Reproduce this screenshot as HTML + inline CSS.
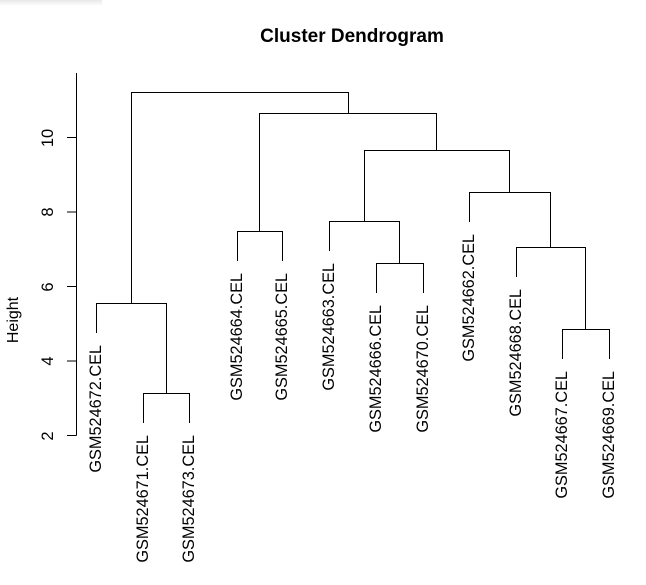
<!DOCTYPE html>
<html><head><style>body{margin:0;background:#fff}</style></head><body>
<svg width="646" height="580" xmlns="http://www.w3.org/2000/svg" font-family="Liberation Sans, sans-serif">
<defs><linearGradient id="g" x1="0" y1="0" x2="0" y2="1"><stop offset="0" stop-color="#e8e8e8"/><stop offset="1" stop-color="#fff"/></linearGradient></defs>
<rect x="0" y="0" width="102" height="6" fill="url(#g)"/>
<text x="352" y="42" font-size="19" font-weight="bold" text-anchor="middle">Cluster Dendrogram</text>
<text transform="translate(18,320) rotate(-90)" font-size="16" text-anchor="middle">Height</text>
<g stroke="#000" stroke-width="1" fill="none">
<path d="M76.5 73V435.5M67 435.5H76.5M67 361H76.5M67 286.5H76.5M67 212H76.5M67 137.5H76.5"/>
<path d="M131.5 303V92.5H348.5V113"/>
<path d="M96.5 333V303.5H166.5V393"/>
<path d="M143.5 423V393.5H189.5V423"/>
<path d="M259.5 231V113.5H436.5V150"/>
<path d="M237.5 261V231.5H282.5V261"/>
<path d="M364.5 221V150.5H509.5V192"/>
<path d="M329.5 251V221.5H399.5V263"/>
<path d="M376.5 293V263.5H423.5V293"/>
<path d="M469.5 222V192.5H550.5V247"/>
<path d="M516.5 277V247.5H585.5V329"/>
<path d="M562.5 359V329.5H609.5V359"/>
</g>
<g font-size="16.5" text-anchor="middle">
<text transform="translate(53,436) rotate(-90)">2</text>
<text transform="translate(53,361) rotate(-90)">4</text>
<text transform="translate(53,287) rotate(-90)">6</text>
<text transform="translate(53,212) rotate(-90)">8</text>
<text transform="translate(53,138) rotate(-90)">10</text>
</g>
<g font-size="16.3" text-anchor="end">
<text transform="translate(101,345) rotate(-90)">GSM524672.CEL</text>
<text transform="translate(148,435) rotate(-90)">GSM524671.CEL</text>
<text transform="translate(194,435) rotate(-90)">GSM524673.CEL</text>
<text transform="translate(242,273) rotate(-90)">GSM524664.CEL</text>
<text transform="translate(287,273) rotate(-90)">GSM524665.CEL</text>
<text transform="translate(334,263) rotate(-90)">GSM524663.CEL</text>
<text transform="translate(381,305) rotate(-90)">GSM524666.CEL</text>
<text transform="translate(428,305) rotate(-90)">GSM524670.CEL</text>
<text transform="translate(474,234) rotate(-90)">GSM524662.CEL</text>
<text transform="translate(521,289) rotate(-90)">GSM524668.CEL</text>
<text transform="translate(567,371) rotate(-90)">GSM524667.CEL</text>
<text transform="translate(614,371) rotate(-90)">GSM524669.CEL</text>
</g>
</svg>
</body></html>
